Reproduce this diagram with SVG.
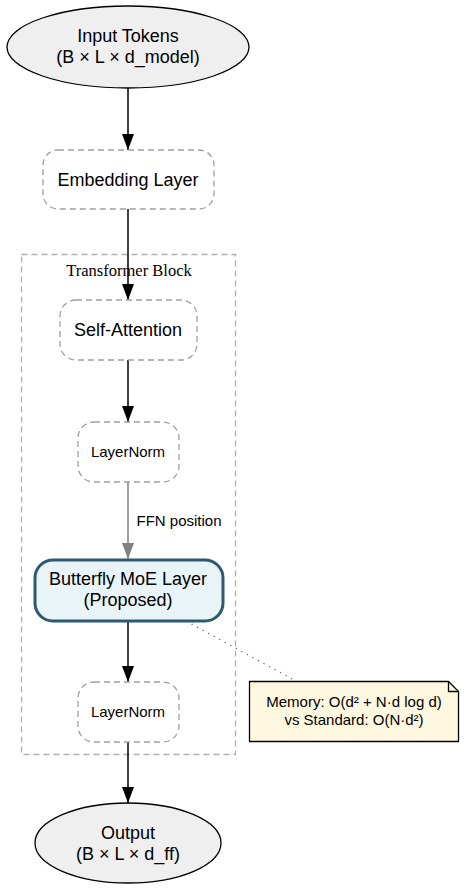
<svg xmlns="http://www.w3.org/2000/svg" width="465" height="891" viewBox="0 0 465 891">
<defs>
<style>
text{font-family:"Liberation Sans",Arial,sans-serif;text-anchor:middle;fill:#000}
.big{font-size:18px}
.small{font-size:15px}
.box{fill:#fff;stroke:#a0a0a0;stroke-width:1.3;stroke-dasharray:6,4}
.ell{fill:#efefef;stroke:#000;stroke-width:1.3}
.edge{stroke:#000;stroke-width:1.5;fill:none}
</style>
<marker id="ah" markerWidth="16" markerHeight="12" refX="16" refY="6" orient="auto" markerUnits="userSpaceOnUse" viewBox="0 0 16 12"><path d="M0,0 L16,6 L0,12 Z" fill="#000"/></marker>
<marker id="ahg" markerWidth="16" markerHeight="12" refX="16" refY="6" orient="auto" markerUnits="userSpaceOnUse" viewBox="0 0 16 12"><path d="M0,0 L16,6 L0,12 Z" fill="#808080"/></marker>
</defs>
<rect width="465" height="891" fill="#fff"/>
<g id="cluster">
<rect x="21.5" y="254.5" width="214" height="500" fill="none" stroke="#b0b0b0" stroke-width="1.3" stroke-dasharray="6,4"/>
<text x="129" y="276" style="font-family:'Liberation Serif','Times New Roman',serif;font-size:16.5px">Transformer Block</text>
</g>
<g id="connectors">
<line class="edge" x1="128" y1="88" x2="128" y2="150" marker-end="url(#ah)"/>
<line class="edge" x1="128" y1="209" x2="128" y2="300" marker-end="url(#ah)"/>
<line class="edge" x1="128" y1="360" x2="128" y2="422" marker-end="url(#ah)"/>
<line x1="128" y1="482" x2="128" y2="559" stroke="#808080" stroke-width="1.5" marker-end="url(#ahg)"/>
<text x="179" y="526" class="small">FFN position</text>
<line class="edge" x1="128" y1="621" x2="128" y2="682" marker-end="url(#ah)"/>
<line class="edge" x1="128" y1="742" x2="128" y2="803" marker-end="url(#ah)"/>
<line x1="186" y1="621" x2="294" y2="680" stroke="#707070" stroke-width="1.3" stroke-dasharray="1.3,5"/>
</g>
<g id="input">
<ellipse class="ell" cx="128" cy="47" rx="121" ry="41"/>
<text x="128" y="42" class="big">Input Tokens</text>
<text x="128" y="63" class="big">(B × L × d_model)</text>
</g>
<g id="embedding">
<rect class="box" x="43" y="150" width="171" height="59" rx="15"/>
<text x="128" y="186" class="big">Embedding Layer</text>
</g>
<g id="selfattn">
<rect class="box" x="60" y="300" width="137" height="60" rx="16"/>
<text x="128" y="336" class="big">Self-Attention</text>
</g>
<g id="layernorm1">
<rect class="box" x="78" y="422" width="101" height="60" rx="16"/>
<text x="128" y="457" class="small">LayerNorm</text>
</g>
<g id="moe">
<rect x="35" y="560" width="188" height="61" rx="18" fill="#e8f4f8" stroke="#2c5a72" stroke-width="3"/>
<text x="128" y="585" class="big">Butterfly MoE Layer</text>
<text x="128" y="606" class="big">(Proposed)</text>
</g>
<g id="layernorm2">
<rect class="box" x="78" y="682" width="101" height="60" rx="16"/>
<text x="128" y="717" class="small">LayerNorm</text>
</g>
<g id="output">
<ellipse class="ell" cx="128" cy="843" rx="93" ry="40"/>
<text x="128" y="839" class="big">Output</text>
<text x="128" y="860" class="big">(B × L × d_ff)</text>
</g>
<g id="note">
<path d="M249.5,681.5 H448.5 L458.5,691.5 V741.5 H249.5 Z" fill="#fff8e1" stroke="#000" stroke-width="1.3"/>
<path d="M448.5,681.5 V691.5 H458.5" fill="none" stroke="#000" stroke-width="1.3"/>
<text x="354" y="707" class="small">Memory: O(d² + N·d log d)</text>
<text x="354" y="725" class="small">vs Standard: O(N·d²)</text>
</g>
</svg>
